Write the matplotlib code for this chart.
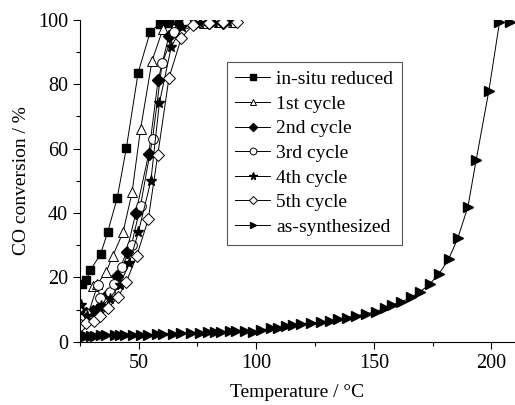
import matplotlib.pyplot as plt
from matplotlib.ticker import MultipleLocator

plt.rcParams['font.family'] = ['Liberation Serif', 'DejaVu Serif']

# in-situ reduced
t_insitu = [25.8, 27.8, 29.5, 33.8, 36.8, 40.9, 44.8, 49.8, 54.9, 59.0, 63.0, 67.5]
y_insitu = [17.9, 19.3, 22.3, 27.2, 34.0, 44.7, 60.3, 83.6, 96.2, 98.8, 99.0, 99.0]
# 1st cycle
t_c1 = [30.7, 32.5, 36.2, 38.9, 43.4, 47.2, 50.8, 55.7, 60.3, 66.0, 72.0, 78.0, 84.0, 90.0]
y_c1 = [17.2, 18.0, 21.7, 26.5, 34.1, 46.4, 66.0, 87.3, 97.1, 99.0, 99.2, 99.0, 99.3, 99.2]
# 2nd cycle
t_c2 = [26.3, 27.7, 30.5, 34.0, 36.9, 40.9, 44.9, 48.8, 54.3, 58.3, 62.9, 67.0, 74.0, 80.0, 86.0]
y_c2 = [8.0, 8.9, 9.7, 11.2, 14.8, 20.4, 28.0, 40.0, 58.4, 81.4, 95.1, 99.0, 99.0, 99.0, 99.0]
# 3rd cycle
t_c3 = [26.0, 28.5, 32.6, 33.5, 37.7, 39.4, 43.0, 47.0, 50.8, 55.9, 60.0, 65.0, 70.0, 76.0]
y_c3 = [7.0, 8.5, 17.7, 13.6, 15.6, 17.9, 23.1, 30.1, 42.3, 63.0, 86.5, 96.2, 99.0, 99.2]
# 4th cycle
t_c4 = [25.4, 28.0, 31.0, 34.2, 37.7, 42.0, 46.0, 49.9, 55.2, 58.8, 63.9, 68.6, 76.0, 82.0, 88.0]
y_c4 = [11.4, 8.0, 9.2, 11.0, 13.4, 17.7, 24.4, 34.1, 50.0, 74.1, 91.7, 97.9, 99.0, 99.0, 99.2]
# 5th cycle
t_c5 = [25.7, 27.8, 31.0, 33.5, 37.0, 41.3, 44.8, 49.1, 54.1, 58.1, 62.9, 68.2, 73.1, 80.0, 86.0, 92.0]
y_c5 = [5.3, 5.8, 6.5, 7.9, 10.5, 13.9, 18.7, 26.5, 38.1, 57.9, 82.0, 94.5, 98.4, 99.0, 99.2, 99.4]
# as-synthesized
t_as = [27.8, 29.6, 31.4, 33.8, 36.3, 39.9, 42.0, 44.1, 47.6, 51.2, 54.0, 57.6, 60.4, 64.6,
        68.2, 72.4, 76.0, 79.5, 82.4, 85.2, 88.8, 91.6, 95.1, 98.6, 102.2, 106.4, 109.2,
        112.8, 115.6, 119.2, 123.4, 127.4, 131.5, 134.7, 138.7, 142.5, 146.8, 150.7, 154.6,
        157.8, 161.6, 165.6, 169.7, 173.7, 177.6, 181.8, 185.7, 190.0, 193.5, 198.9, 203.4, 207.7]
y_as = [1.9, 1.9, 1.9, 2.0, 2.0, 2.0, 2.1, 2.1, 2.1, 2.2, 2.2, 2.3, 2.4, 2.5,
        2.6, 2.7, 2.8, 2.9, 3.0, 3.1, 3.3, 3.4, 3.5, 3.2, 3.7, 4.2, 4.4,
        4.8, 5.1, 5.5, 5.8, 6.1, 6.5, 7.0, 7.5, 8.1, 8.7, 9.3, 10.5,
        11.5, 12.3, 13.8, 15.6, 17.9, 21.0, 25.7, 32.2, 42.0, 56.5, 78.0, 99.2, 99.2]

fig = plt.figure(figsize=(5.15, 4.05), dpi=100)
ax = fig.add_axes([0.155, 0.156, 0.845, 0.795])

lw = 0.7
ms = 6
ax.plot(t_insitu, y_insitu, '-s', color='k', lw=lw, ms=ms, mfc='k', label='in-situ reduced')
ax.plot(t_c1, y_c1, '-^', color='k', lw=lw, ms=ms + 1, mfc='white', mew=0.7, label='1st cycle')
ax.plot(t_c2, y_c2, '-D', color='k', lw=lw, ms=ms, mfc='k', label='2nd cycle')
ax.plot(t_c3, y_c3, '-o', color='k', lw=lw, ms=ms + 1, mfc='white', mew=0.7, label='3rd cycle')
ax.plot(t_c4, y_c4, '-*', color='k', lw=lw, ms=ms + 2, mfc='k', label='4th cycle')
ax.plot(t_c5, y_c5, '-D', color='k', lw=lw, ms=ms, mfc='white', mew=0.7, label='5th cycle')
ax.plot(t_as, y_as, '->', color='k', lw=lw, ms=ms + 1, mfc='k', label='as-synthesized')

ax.set_xlim(25, 210)
ax.set_ylim(0, 100)
ax.xaxis.set_major_locator(MultipleLocator(50))
ax.xaxis.set_minor_locator(MultipleLocator(25))
ax.yaxis.set_major_locator(MultipleLocator(20))
ax.yaxis.set_minor_locator(MultipleLocator(10))
ax.tick_params(which='major', direction='out', length=5, width=0.8, labelsize=14.5)
ax.tick_params(which='minor', direction='out', length=3, width=0.8)
ax.spines['top'].set_visible(False)
ax.spines['right'].set_visible(False)

ax.set_xlabel('Temperature / °C', fontsize=14, labelpad=8)
ax.set_ylabel('CO conversion / %', fontsize=14, labelpad=6)

leg = ax.legend(loc='upper left', bbox_to_anchor=(0.315, 0.9), fontsize=14,
                fancybox=False, edgecolor='#555555', framealpha=1, markerscale=0.7,
                handlelength=1.8, handletextpad=0.3, labelspacing=0.36, borderpad=0.45)
leg.get_frame().set_linewidth(0.8)

fig.savefig('out.png', dpi=100)
